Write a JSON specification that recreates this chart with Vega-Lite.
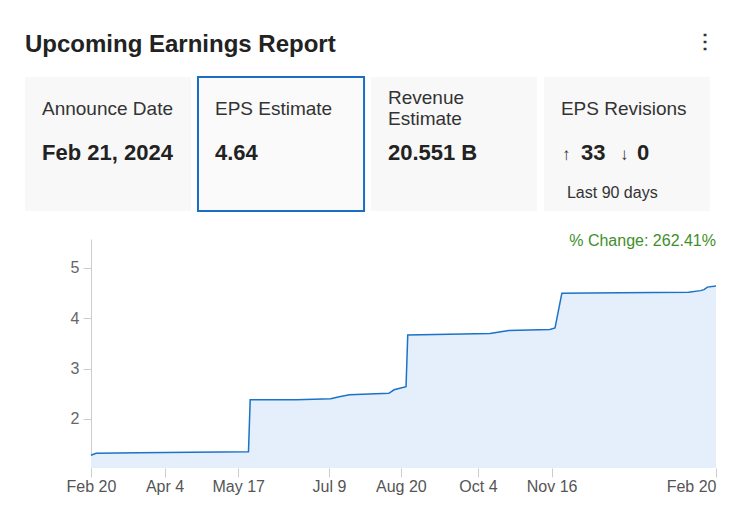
{
  "$schema": "https://vega.github.io/schema/vega-lite/v6.json",
  "background": "white",
  "padding": {"left": 25, "top": 31, "right": 30, "bottom": 20},
  "title": {"text": "Upcoming Earnings Report", "anchor": "start", "fontSize": 24, "fontWeight": "bold", "color": "#222222", "offset": -25},
  "datasets": {
    "cards": [
      {"card": "Announce Date", "label": "Announce Date", "value": "Feb 21, 2024"},
      {"card": "EPS Estimate", "label": "EPS Estimate", "value": "4.64"},
      {"card": "Revenue Estimate", "label": "Revenue\nEstimate", "value": "20.551 B"},
      {"card": "EPS Revisions", "label": "EPS Revisions", "up": 33, "down": 0, "note": "Last 90 days"}
    ],
    "eps": [
      {"date": "2023-02-20", "eps": 1.28},
      {"date": "2023-02-23", "eps": 1.32},
      {"date": "2023-03-20", "eps": 1.33},
      {"date": "2023-04-20", "eps": 1.34},
      {"date": "2023-05-23", "eps": 1.35},
      {"date": "2023-05-24", "eps": 2.38},
      {"date": "2023-06-20", "eps": 2.38},
      {"date": "2023-07-10", "eps": 2.40},
      {"date": "2023-07-15", "eps": 2.44},
      {"date": "2023-07-21", "eps": 2.48},
      {"date": "2023-08-13", "eps": 2.51},
      {"date": "2023-08-16", "eps": 2.58},
      {"date": "2023-08-23", "eps": 2.64},
      {"date": "2023-08-24", "eps": 3.67},
      {"date": "2023-09-25", "eps": 3.69},
      {"date": "2023-10-11", "eps": 3.70},
      {"date": "2023-10-22", "eps": 3.76},
      {"date": "2023-11-15", "eps": 3.78},
      {"date": "2023-11-18", "eps": 3.81},
      {"date": "2023-11-22", "eps": 4.50},
      {"date": "2023-12-26", "eps": 4.51},
      {"date": "2024-02-04", "eps": 4.52},
      {"date": "2024-02-11", "eps": 4.55},
      {"date": "2024-02-13", "eps": 4.57},
      {"date": "2024-02-15", "eps": 4.62},
      {"date": "2024-02-20", "eps": 4.64}
    ],
    "change": [{"label": "% Change: 262.41%"}]
  },
  "spacing": 21,
  "vconcat": [
    {
      "width": 685,
      "height": 134,
      "data": {"name": "cards"},
      "layer": [
        {
          "mark": {"type": "rect", "fill": "#f8f8f8"},
          "encoding": {
            "x": {"field": "card", "type": "nominal", "sort": null, "scale": {"paddingInner": 0.04, "paddingOuter": 0}, "axis": null}
          }
        },
        {
          "transform": [{"filter": "datum.card === 'EPS Estimate'"}],
          "mark": {"type": "rect", "fill": "#fafafa", "stroke": "#1a6fc4", "strokeWidth": 2},
          "encoding": {
            "x": {"field": "card", "type": "nominal", "sort": null}
          }
        },
        {
          "transform": [{"filter": "indexof(datum.label, '\\n') < 0"}],
          "mark": {"type": "text", "align": "left", "baseline": "middle", "dx": 17, "fontSize": 19, "color": "#333333"},
          "encoding": {
            "x": {"field": "card", "type": "nominal", "sort": null, "bandPosition": 0},
            "y": {"datum": "label", "type": "nominal", "scale": {"type": "point", "domain": ["label", "value", "note"], "padding": 0.595, "align": 0.64}, "axis": null},
            "text": {"field": "label"}
          }
        },
        {
          "transform": [{"filter": "indexof(datum.label, '\\n') >= 0"}],
          "mark": {"type": "text", "align": "left", "baseline": "middle", "dx": 17, "dy": -10.5, "fontSize": 19, "color": "#333333", "lineBreak": "\n", "lineHeight": 21},
          "encoding": {
            "x": {"field": "card", "type": "nominal", "sort": null, "bandPosition": 0},
            "y": {"datum": "label", "type": "nominal"},
            "text": {"field": "label"}
          }
        },
        {
          "transform": [{"filter": "isValid(datum.value)"}],
          "mark": {"type": "text", "align": "left", "baseline": "middle", "dx": 17, "dy": 2, "fontSize": 22, "fontWeight": "bold", "color": "#222222"},
          "encoding": {
            "x": {"field": "card", "type": "nominal", "sort": null, "bandPosition": 0},
            "y": {"datum": "value", "type": "nominal"},
            "text": {"field": "value"}
          }
        },
        {
          "transform": [{"filter": "isValid(datum.up)"}],
          "mark": {"type": "text", "align": "left", "baseline": "middle", "dx": 18, "dy": 4, "fontSize": 17, "color": "#333333"},
          "encoding": {
            "x": {"field": "card", "type": "nominal", "sort": null, "bandPosition": 0},
            "y": {"datum": "value", "type": "nominal"},
            "text": {"value": "↑"}
          }
        },
        {
          "transform": [{"filter": "isValid(datum.up)"}],
          "mark": {"type": "text", "align": "left", "baseline": "middle", "dx": 37, "dy": 2, "fontSize": 22, "fontWeight": "bold", "color": "#222222"},
          "encoding": {
            "x": {"field": "card", "type": "nominal", "sort": null, "bandPosition": 0},
            "y": {"datum": "value", "type": "nominal"},
            "text": {"field": "up"}
          }
        },
        {
          "transform": [{"filter": "isValid(datum.down)"}],
          "mark": {"type": "text", "align": "left", "baseline": "middle", "dx": 76, "dy": 4, "fontSize": 17, "color": "#333333"},
          "encoding": {
            "x": {"field": "card", "type": "nominal", "sort": null, "bandPosition": 0},
            "y": {"datum": "value", "type": "nominal"},
            "text": {"value": "↓"}
          }
        },
        {
          "transform": [{"filter": "isValid(datum.down)"}],
          "mark": {"type": "text", "align": "left", "baseline": "middle", "dx": 93, "dy": 2, "fontSize": 22, "fontWeight": "bold", "color": "#222222"},
          "encoding": {
            "x": {"field": "card", "type": "nominal", "sort": null, "bandPosition": 0},
            "y": {"datum": "value", "type": "nominal"},
            "text": {"field": "down"}
          }
        },
        {
          "transform": [{"filter": "isValid(datum.note)"}],
          "mark": {"type": "text", "align": "left", "baseline": "middle", "dx": 23, "fontSize": 16, "color": "#333333"},
          "encoding": {
            "x": {"field": "card", "type": "nominal", "sort": null, "bandPosition": 0},
            "y": {"datum": "note", "type": "nominal"},
            "text": {"field": "note"}
          }
        },
        {
          "transform": [{"filter": "datum.card === 'EPS Revisions'"}],
          "mark": {"type": "text", "align": "center", "baseline": "middle", "dx": -5, "dy": -67, "fontSize": 20, "fontWeight": "bold", "color": "#333333"},
          "encoding": {
            "x": {"field": "card", "type": "nominal", "sort": null, "bandPosition": 1},
            "y": {"datum": "label", "type": "nominal"},
            "text": {"value": "⋮"}
          }
        }
      ]
    },
    {
      "width": 691,
      "height": 229,
      "layer": [
        {
          "data": {"name": "eps"},
          "mark": {"type": "area", "color": "#e4effb", "clip": true},
          "encoding": {
            "x": {
              "field": "date", "type": "temporal",
              "scale": {"type": "utc", "domain": [{"year": 2023, "month": 1, "date": 12, "hours": 12, "utc": true}, {"year": 2024, "month": 2, "date": 20, "utc": true}]},
              "axis": {
                "values": [
                  {"year": 2023, "month": 2, "date": 20, "utc": true},
                  {"year": 2023, "month": 4, "date": 4, "utc": true},
                  {"year": 2023, "month": 5, "date": 17, "utc": true},
                  {"year": 2023, "month": 7, "date": 9, "utc": true},
                  {"year": 2023, "month": 8, "date": 20, "utc": true},
                  {"year": 2023, "month": 10, "date": 4, "utc": true},
                  {"year": 2023, "month": 11, "date": 16, "utc": true},
                  {"year": 2024, "month": 2, "date": 20, "utc": true}
                ],
                "format": "%b %-d", "title": null, "domain": false, "grid": false,
                "tickColor": "#cccccc", "tickSize": 9, "labelFontSize": 16, "labelColor": "#555555",
                "labelPadding": 1, "labelOverlap": false, "labelFlush": true
              }
            },
            "y": {
              "field": "eps", "type": "quantitative",
              "scale": {"domain": [1.026, 5.576], "zero": false, "nice": false},
              "axis": {
                "values": [2, 3, 4, 5], "title": null, "offset": -66, "grid": false,
                "domainColor": "#cccccc", "tickColor": "#cccccc", "tickSize": 8,
                "labelFontSize": 16, "labelColor": "#666666", "labelPadding": 4
              }
            }
          }
        },
        {
          "data": {"name": "eps"},
          "mark": {"type": "line", "color": "#1a73c8", "strokeWidth": 1.5, "clip": true},
          "encoding": {
            "x": {"field": "date", "type": "temporal"},
            "y": {"field": "eps", "type": "quantitative"}
          }
        },
        {
          "data": {"name": "change"},
          "mark": {"type": "text", "align": "right", "baseline": "middle", "dy": 2, "fontSize": 16, "color": "#3f8f2a"},
          "encoding": {
            "x": {"datum": {"year": 2024, "month": 2, "date": 20, "utc": true}, "type": "temporal"},
            "y": {"datum": 5.576, "type": "quantitative"},
            "text": {"field": "label"}
          }
        }
      ]
    }
  ],
  "config": {
    "font": "Liberation Sans",
    "view": {"stroke": null}
  }
}
